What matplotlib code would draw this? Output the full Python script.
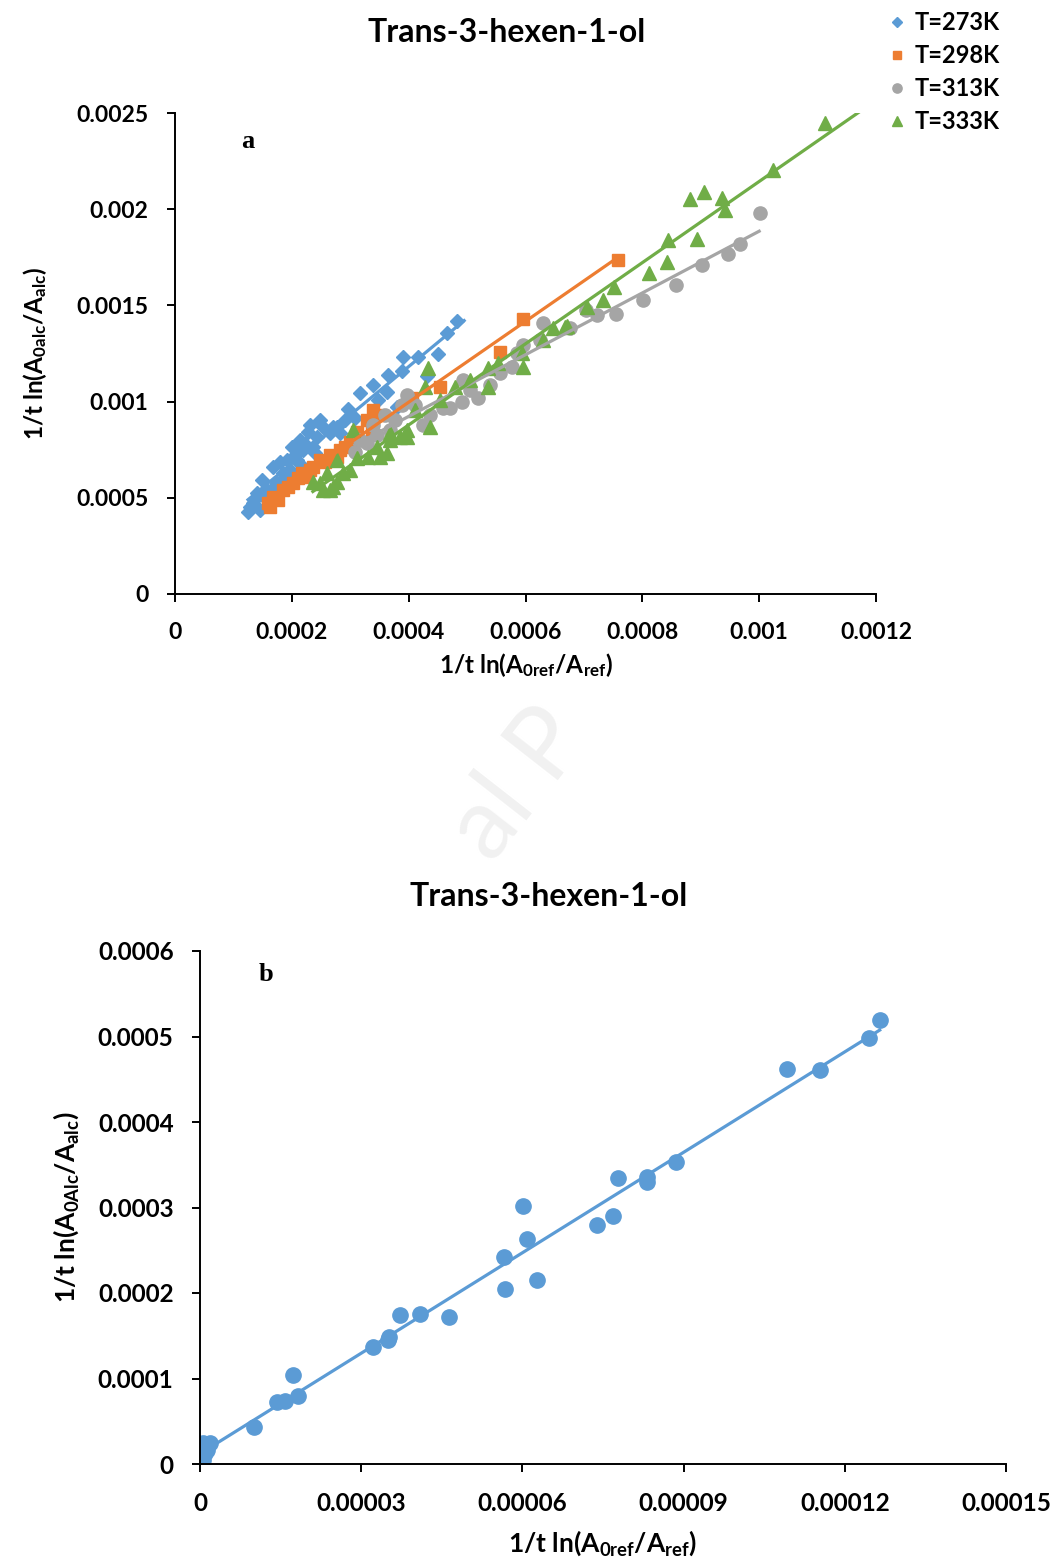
import numpy as np
import matplotlib
matplotlib.use("Agg")
import matplotlib.pyplot as plt
from matplotlib.ticker import FuncFormatter, MultipleLocator

plt.rcParams['font.family'] = ['Lato', 'DejaVu Sans']
plt.rcParams['font.weight'] = 'bold'
plt.rcParams['mathtext.fontset'] = 'custom'
plt.rcParams['mathtext.rm'] = 'Lato:bold'
plt.rcParams['mathtext.default'] = 'rm'

# ---- panel a: four temperatures ----
x_273 = [0.000483, 0.000466, 0.000450, 0.000416, 0.000390, 0.000389, 0.000365, 0.000339, 0.000317,
         0.000363, 0.000348, 0.000296, 0.000380, 0.000431, 0.000271, 0.000282, 0.000308, 0.000231,
         0.000253, 0.000277, 0.000243, 0.000219, 0.000209, 0.000197, 0.000185, 0.000175, 0.000158,
         0.000140, 0.000134, 0.000146, 0.000128, 0.000265, 0.000168, 0.000192, 0.000214, 0.000236,
         0.000248, 0.000200, 0.000180, 0.000149, 0.000125, 0.000228, 0.000291, 0.000154,
         0.000205, 0.000222, 0.000188, 0.000172, 0.000160, 0.000137, 0.000240, 0.000212]
y_273 = [0.001419, 0.001357, 0.001247, 0.001232, 0.001232, 0.001159, 0.001138, 0.001086, 0.001045,
         0.001050, 0.001008, 0.000962, 0.000972, 0.001133, 0.000868, 0.000837, 0.000915, 0.000878,
         0.000868, 0.000868, 0.000816, 0.000748, 0.000696, 0.000644, 0.000629, 0.000577, 0.000541,
         0.000525, 0.000473, 0.000437, 0.000452, 0.000837, 0.000660, 0.000696, 0.000800, 0.000764,
         0.000904, 0.000764, 0.000686, 0.000593, 0.000426, 0.000842, 0.000904, 0.000499,
         0.000720, 0.000780, 0.000610, 0.000560, 0.000510, 0.000495, 0.000735, 0.000680]

x_298 = [0.000758, 0.000596, 0.000556, 0.000454, 0.000406, 0.000339, 0.000348, 0.000329, 0.000337,
         0.000312, 0.000300, 0.000282, 0.000277, 0.000265, 0.000248, 0.000236, 0.000226, 0.000217,
         0.000202, 0.000185, 0.000168, 0.000163, 0.000159, 0.000193, 0.000211, 0.000231, 0.000257,
         0.000291, 0.000176]
y_298 = [0.001736, 0.001429, 0.001258, 0.001076, 0.001019, 0.000956, 0.000930, 0.000904, 0.000852,
         0.000842, 0.000790, 0.000748, 0.000712, 0.000722, 0.000696, 0.000660, 0.000608, 0.000629,
         0.000577, 0.000541, 0.000504, 0.000452, 0.000473, 0.000556, 0.000603, 0.000644, 0.000686,
         0.000764, 0.000489]

x_313 = [0.001001, 0.000967, 0.000947, 0.000902, 0.000858, 0.000801, 0.000755, 0.000722, 0.000704,
         0.000676, 0.000630, 0.000625, 0.000596, 0.000585, 0.000577, 0.000556, 0.000519, 0.000493,
         0.000491, 0.000471, 0.000459, 0.000425, 0.000397, 0.000389, 0.000339, 0.000329, 0.000360,
         0.000377, 0.000346, 0.000368, 0.000317, 0.000308, 0.000437, 0.000411, 0.000505, 0.000539]
y_313 = [0.001980, 0.001819, 0.001767, 0.001710, 0.001606, 0.001528, 0.001455, 0.001450, 0.001476,
         0.001383, 0.001409, 0.001320, 0.001294, 0.001253, 0.001180, 0.001149, 0.001019, 0.001112,
         0.000998, 0.000967, 0.000967, 0.000878, 0.001034, 0.000982, 0.000878, 0.000785, 0.000930,
         0.000904, 0.000826, 0.000852, 0.000800, 0.000738, 0.000930, 0.000982, 0.001060, 0.001086]

x_333 = [0.001113, 0.001024, 0.000882, 0.000906, 0.000936, 0.000942, 0.000844, 0.000894, 0.000842,
         0.000811, 0.000752, 0.000733, 0.000705, 0.000671, 0.000647, 0.000630, 0.000594, 0.000596,
         0.000553, 0.000536, 0.000536, 0.000479, 0.000433, 0.000428, 0.000437, 0.000411, 0.000397,
         0.000368, 0.000346, 0.000330, 0.000305, 0.000300, 0.000277, 0.000265, 0.000277, 0.000288,
         0.000260, 0.000248, 0.000271, 0.000253, 0.000351, 0.000368, 0.000385, 0.000397, 0.000363,
         0.000312, 0.000236, 0.000505, 0.000454, 0.000668]
y_333 = [0.002448, 0.002204, 0.002053, 0.002089, 0.002058, 0.001996, 0.001840, 0.001845, 0.001726,
         0.001668, 0.001596, 0.001528, 0.001492, 0.001393, 0.001383, 0.001320, 0.001253, 0.001180,
         0.001201, 0.001175, 0.001076, 0.001076, 0.001175, 0.001076, 0.000868, 0.000956, 0.000816,
         0.000837, 0.000764, 0.000712, 0.000852, 0.000644, 0.000582, 0.000541, 0.000696, 0.000629,
         0.000629, 0.000577, 0.000556, 0.000541, 0.000712, 0.000800, 0.000816, 0.000852, 0.000733,
         0.000707, 0.000582, 0.001112, 0.001008, 0.001388]

labels_a = ['T=273K', 'T=298K', 'T=313K', 'T=333K']
colors_a = ['#5B9BD5', '#ED7D31', '#A5A5A5', '#70AD47']
markers_a = ['D', 's', 'o', '^']
msize_a = [7.5, 8, 9.5, 10]
trend_end = [0.000495, 0.000758, 0.001, 0.0012]

# ---- panel b ----
x_b = [0.0001265, 0.0001245, 0.0001154, 0.0001092, 0.0000886, 0.0000832, 0.0000832, 0.0000777,
       0.0000769, 0.0000739, 0.0000601, 0.0000609, 0.0000566, 0.0000568, 0.0000627, 0.0000463,
       0.0000409, 0.0000372, 0.0000352, 0.0000350, 0.0000322, 0.0000182, 0.0000173, 0.0000158,
       0.0000143, 0.0000100, 0.0000019, 0.0000006, 0.0000009, 0.0000006, 0.0000013]
y_b = [0.000519, 0.000498, 0.000461, 0.000462, 0.000353, 0.000336, 0.000330, 0.000334,
       0.000290, 0.000280, 0.000302, 0.000263, 0.000242, 0.000205, 0.000215, 0.000172,
       0.000176, 0.000174, 0.000149, 0.000145, 0.000137, 0.0000795, 0.000104, 0.0000737,
       0.0000725, 0.0000433, 0.0000246, 0.0000246, 0.0000129, 0.0000047, 0.0000164]

title = 'Trans-3-hexen-1-ol'


def fmt(v, pos):
    s = f'{v:.5f}'.rstrip('0').rstrip('.')
    return '0' if s in ('', '-0') else s


def style(ax, size):
    for sp in ['top', 'right']:
        ax.spines[sp].set_visible(False)
    for sp in ['left', 'bottom']:
        ax.spines[sp].set_linewidth(1.4)
        ax.spines[sp].set_color('black')
    ax.tick_params(direction='out', length=6, width=1.4, labelsize=size)
    ax.tick_params(axis='y', pad=13)
    ax.tick_params(axis='x', pad=14)
    ax.xaxis.set_major_formatter(FuncFormatter(fmt))
    ax.yaxis.set_major_formatter(FuncFormatter(fmt))


fig = plt.figure(figsize=(10.58, 15.6), dpi=100)

# faint watermark remnant
fig.text(0.49, 0.497, 'al P', fontsize=72, color='#f1f1f1', rotation=52, fontweight='normal',
         ha='center', va='center', zorder=0)

ax1 = fig.add_axes([175 / 1058, 1 - 594 / 1560, 701 / 1058, 481 / 1560])
xs = [x_273, x_298, x_313, x_333]
ys = [y_273, y_298, y_313, y_333]
handles = []
for i in range(4):
    h, = ax1.plot(xs[i], ys[i], linestyle='none', marker=markers_a[i], ms=msize_a[i],
                  color=colors_a[i], mec=colors_a[i], zorder=2, label=labels_a[i])
    handles.append(h)
for i in range(4):
    k, b = np.polyfit(xs[i], ys[i], 1)
    xl = np.array([min(xs[i]), trend_end[i]])
    ax1.plot(xl, k * xl + b, color=colors_a[i], lw=2.3, zorder=3)
ax1.set_xlim(0, 0.0012)
ax1.set_ylim(0, 0.0025)
ax1.xaxis.set_major_locator(MultipleLocator(0.0002))
ax1.yaxis.set_major_locator(MultipleLocator(0.0005))
style(ax1, 16.5)
ax1.set_xlabel('1/t ln(A$_{0ref}$/A$_{ref}$)', fontsize=17.5, fontweight='bold', labelpad=6)
ax1.set_ylabel('1/t ln(A$_{0alc}$/A$_{alc}$)', fontsize=17.5, fontweight='bold', labelpad=20)
fig.text(507 / 1058, 1 - 33 / 1560, title, fontsize=23, fontweight='bold', ha='center', va='center')
ax1.text(0.104, 0.94, 'a', transform=ax1.transAxes, fontsize=19, fontweight='bold',
         family='Liberation Serif', ha='center', va='center')
fig.legend(handles=handles, loc='upper left', bbox_to_anchor=(878 / 1058, 1 - 2 / 1560),
           frameon=False, handlelength=0.8, handletextpad=0.35, borderaxespad=0,
           labelspacing=0.42, markerscale=0.7, prop={'weight': 'bold', 'size': 17})

ax2 = fig.add_axes([200 / 1058, 1 - 1464 / 1560, 806 / 1058, 513 / 1560])
ax2.plot(x_b, y_b, linestyle='none', marker='o', ms=11, color='#5B9BD5', zorder=2)
k, b = np.polyfit(x_b, y_b, 1)
xl = np.array([min(x_b), max(x_b)])
ax2.plot(xl, k * xl + b, color='#5B9BD5', lw=2.3, zorder=3)
ax2.set_xlim(0, 0.00015)
ax2.set_ylim(0, 0.0006)
ax2.xaxis.set_major_locator(MultipleLocator(0.00003))
ax2.yaxis.set_major_locator(MultipleLocator(0.0001))
style(ax2, 17.5)
ax2.set_xlabel('1/t ln(A$_{0ref}$/A$_{ref}$)', fontsize=19, fontweight='bold', labelpad=10)
ax2.set_ylabel('1/t ln(A$_{0Alc}$/A$_{alc}$)', fontsize=19, fontweight='bold', labelpad=12)
fig.text(549 / 1058, 1 - 897 / 1560, title, fontsize=23, fontweight='bold', ha='center', va='center')
ax2.text(0.082, 0.955, 'b', transform=ax2.transAxes, fontsize=19, fontweight='bold',
         family='Liberation Serif', ha='center', va='center')

fig.savefig('out.png', dpi=100)
